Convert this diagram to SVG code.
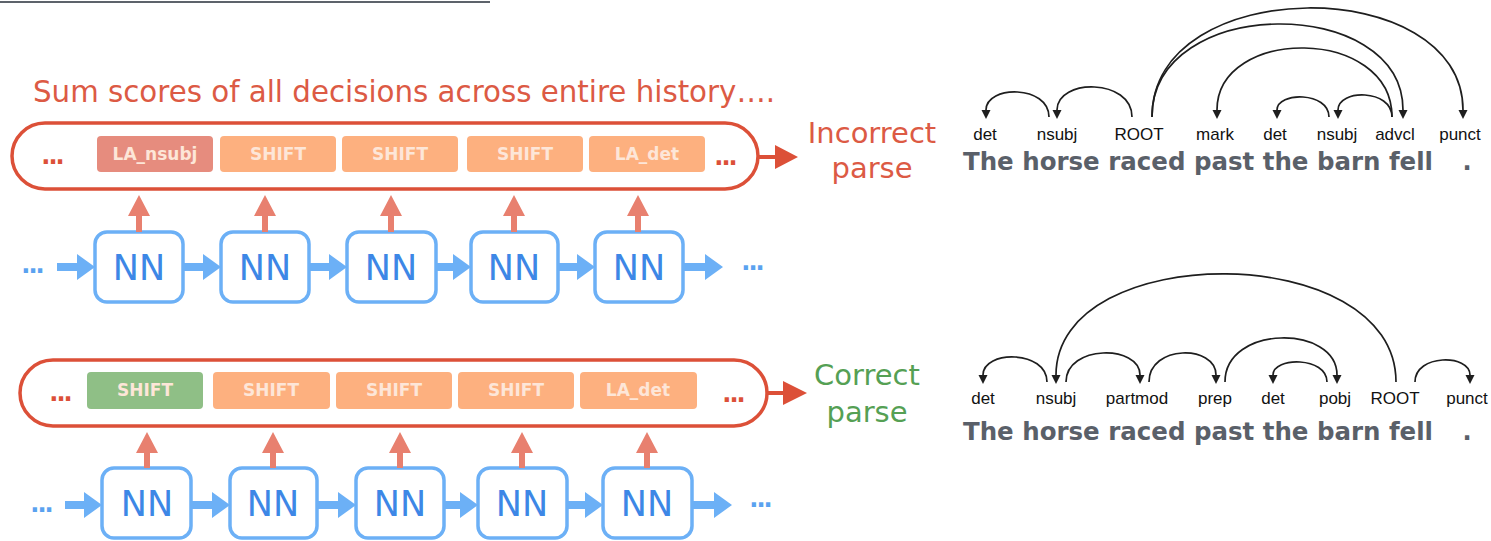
<svg xmlns="http://www.w3.org/2000/svg" width="1491" height="541" viewBox="0 0 1491 541">
<style>
.title{font-family:"DejaVu Sans",Verdana,sans-serif;font-size:30px;fill:#dc5a44}
.res{font-family:"DejaVu Sans",Verdana,sans-serif;font-size:29px;text-anchor:middle}
.seq{fill:#fff;stroke:#dc5038;stroke-width:3.5}
.act{font-family:"DejaVu Sans",Verdana,sans-serif;font-size:17px;font-weight:bold;fill:#fde6d8;text-anchor:middle}
.nnb{fill:#fff;stroke:#6cb0f6;stroke-width:3.5}
.nnt{font-family:"DejaVu Sans",Verdana,sans-serif;font-size:35px;fill:#3d87e6;text-anchor:middle}
.dots{font-family:"DejaVu Sans",Verdana,sans-serif;font-size:24px;font-weight:bold;text-anchor:middle;letter-spacing:-2px}
.blue{fill:#6cb0f6}
.up{fill:#e8806f}
.red{fill:#dc5038}
.arc{fill:none;stroke:#1e1e1e;stroke-width:1.7;marker-end:url(#ah)}
.lab{font-family:"Liberation Sans",Arial,sans-serif;font-size:17px;fill:#111;text-anchor:middle}
.sent{font-family:"DejaVu Sans",Verdana,sans-serif;font-size:24px;font-weight:bold;fill:#5a6069}
</style>
<defs>
<marker id="ah" viewBox="0 0 10 10" refX="0" refY="5" markerWidth="9" markerHeight="11" markerUnits="userSpaceOnUse" orient="auto"><path d="M0,0 L10,5 L0,10 z" fill="#1e1e1e"/></marker>
</defs>
<rect width="1491" height="541" fill="#fff"/>
<line x1="0" y1="2" x2="490" y2="2" stroke="#5d636b" stroke-width="2"/>

<text class="title" x="33" y="102" textLength="742" lengthAdjust="spacingAndGlyphs">Sum scores of all decisions across entire history….</text>

<g id="top-sequence">
<rect class="seq" x="12" y="123" width="746" height="66" rx="33"/>
<text class="dots" x="52" y="164" fill="#dc5038">...</text>
<rect x="97" y="136" width="116" height="36" rx="4" fill="#e68c7e"/>
<text class="act" x="155" y="160">LA_nsubj</text>
<rect x="220" y="136" width="116" height="36" rx="4" fill="#fdb07f"/>
<text class="act" x="278" y="160">SHIFT</text>
<rect x="342" y="136" width="116" height="36" rx="4" fill="#fdb07f"/>
<text class="act" x="400" y="160">SHIFT</text>
<rect x="467" y="136" width="116" height="36" rx="4" fill="#fdb07f"/>
<text class="act" x="525" y="160">SHIFT</text>
<rect x="589" y="136" width="116" height="36" rx="4" fill="#fdb07f"/>
<text class="act" x="647" y="160">LA_det</text>
<text class="dots" x="725" y="165" fill="#dc5038">...</text>
</g>
<g id="incorrect-label">
<text class="res" x="872" y="143" fill="#dc5a44">Incorrect</text>
<text class="res" x="872" y="178" fill="#dc5a44">parse</text>
</g>

<g id="top-nn">
<text class="dots" x="32" y="273" fill="#5aa2f0">...</text>
<rect id="nn1" class="nnb" x="95" y="232" width="88" height="70" rx="12"/>
<text class="nnt" x="139" y="280">NN</text>
<rect id="nn2" class="nnb" x="221" y="232" width="88" height="70" rx="12"/>
<text class="nnt" x="265" y="280">NN</text>
<rect id="nn3" class="nnb" x="347" y="232" width="89" height="70" rx="12"/>
<text class="nnt" x="391" y="280">NN</text>
<rect id="nn4" class="nnb" x="471" y="232" width="87" height="70" rx="12"/>
<text class="nnt" x="514" y="280">NN</text>
<rect id="nn5" class="nnb" x="595" y="232" width="88" height="70" rx="12"/>
<text class="nnt" x="639" y="280">NN</text>
<text class="dots" x="752" y="270" fill="#5aa2f0">...</text>
</g>

<g id="bottom-sequence">
<rect class="seq" x="20" y="360" width="747" height="66" rx="33"/>
<text class="dots" x="60" y="401" fill="#dc5038">...</text>
<rect x="87" y="372" width="116" height="37" rx="4" fill="#8fbf86"/>
<text class="act" x="145" y="396" fill="#e6f1e2">SHIFT</text>
<rect x="213" y="372" width="117" height="37" rx="4" fill="#fdb07f"/>
<text class="act" x="271" y="396">SHIFT</text>
<rect x="336" y="372" width="116" height="37" rx="4" fill="#fdb07f"/>
<text class="act" x="394" y="396">SHIFT</text>
<rect x="458" y="372" width="116" height="37" rx="4" fill="#fdb07f"/>
<text class="act" x="516" y="396">SHIFT</text>
<rect x="580" y="372" width="117" height="37" rx="4" fill="#fdb07f"/>
<text class="act" x="638" y="396">LA_det</text>
<text class="dots" x="733" y="402" fill="#dc5038">...</text>
</g>
<g id="correct-label">
<text class="res" x="867" y="385" fill="#55a054">Correct</text>
<text class="res" x="867" y="422" fill="#55a054">parse</text>
</g>

<g id="bottom-nn">
<text class="dots" x="41" y="512" fill="#5aa2f0">...</text>
<rect id="nb1" class="nnb" x="102" y="468" width="89" height="70" rx="12"/>
<text class="nnt" x="147" y="516">NN</text>
<rect id="nb2" class="nnb" x="230" y="468" width="87" height="70" rx="12"/>
<text class="nnt" x="273" y="516">NN</text>
<rect id="nb3" class="nnb" x="356" y="468" width="88" height="70" rx="12"/>
<text class="nnt" x="400" y="516">NN</text>
<rect id="nb4" class="nnb" x="478" y="468" width="89" height="70" rx="12"/>
<text class="nnt" x="522" y="516">NN</text>
<rect id="nb5" class="nnb" x="603" y="468" width="89" height="70" rx="12"/>
<text class="nnt" x="647" y="516">NN</text>
<text class="dots" x="760" y="507" fill="#5aa2f0">...</text>
</g>

<g id="connectors">
<path class="blue" d="M57,263 L77,263 L77,254 L95,267 L77,280 L77,271 L57,271Z"/>
<path class="blue" d="M183,263 L203,263 L203,254 L221,267 L203,280 L203,271 L183,271Z"/>
<path class="blue" d="M309,263 L329,263 L329,254 L347,267 L329,280 L329,271 L309,271Z"/>
<path class="blue" d="M436,263 L453,263 L453,254 L471,267 L453,280 L453,271 L436,271Z"/>
<path class="blue" d="M558,263 L577,263 L577,254 L595,267 L577,280 L577,271 L558,271Z"/>
<path class="blue" d="M683,263 L705,263 L705,254 L723,267 L705,280 L705,271 L683,271Z"/>
<path class="blue" d="M65,501 L84,501 L84,492 L102,505 L84,518 L84,509 L65,509Z"/>
<path class="blue" d="M191,501 L212,501 L212,492 L230,505 L212,518 L212,509 L191,509Z"/>
<path class="blue" d="M317,501 L338,501 L338,492 L356,505 L338,518 L338,509 L317,509Z"/>
<path class="blue" d="M444,501 L460,501 L460,492 L478,505 L460,518 L460,509 L444,509Z"/>
<path class="blue" d="M567,501 L585,501 L585,492 L603,505 L585,518 L585,509 L567,509Z"/>
<path class="blue" d="M692,501 L714,501 L714,492 L732,505 L714,518 L714,509 L692,509Z"/>
<path class="up" d="M136,232 L136,216 L128,216 L139,195 L150,216 L142,216 L142,232Z"/>
<path class="up" d="M262,232 L262,216 L254,216 L265,195 L276,216 L268,216 L268,232Z"/>
<path class="up" d="M388,232 L388,216 L380,216 L391,195 L402,216 L394,216 L394,232Z"/>
<path class="up" d="M511,232 L511,216 L503,216 L514,195 L525,216 L517,216 L517,232Z"/>
<path class="up" d="M635,232 L635,216 L627,216 L638,195 L649,216 L641,216 L641,232Z"/>
<path class="up" d="M144,468 L144,453 L136,453 L147,432 L158,453 L150,453 L150,468Z"/>
<path class="up" d="M270,468 L270,453 L262,453 L273,432 L284,453 L276,453 L276,468Z"/>
<path class="up" d="M397,468 L397,453 L389,453 L400,432 L411,453 L403,453 L403,468Z"/>
<path class="up" d="M519,468 L519,453 L511,453 L522,432 L533,453 L525,453 L525,468Z"/>
<path class="up" d="M644,468 L644,453 L636,453 L647,432 L658,453 L650,453 L650,468Z"/>
<path class="red" d="M758,155 L775,155 L775,145 L798,157 L775,169 L775,159 L758,159Z"/>
<path class="red" d="M767,391 L783,391 L783,381 L807,393 L783,405 L783,395 L767,395Z"/>
</g>

<g id="tree-incorrect">
<g id="tree-incorrect-arcs">
<path class="arc" d="M1049,117 C1049,84.8 986,84.8 986,110"/>
<path class="arc" d="M1132,117 C1132,78.2 1057,78.2 1057,110"/>
<path class="arc" d="M1152,117 C1152,-5.8 1403,-5.8 1403,110"/>
<path class="arc" d="M1152,117 C1152,-27.2 1463,-27.2 1463,110"/>
<path class="arc" d="M1392,117 C1392,26.2 1217,26.2 1217,110"/>
<path class="arc" d="M1329,117 C1329,91.5 1277,91.5 1277,110"/>
<path class="arc" d="M1392,117 C1392,88.8 1338,88.8 1338,110"/>
</g>
<text class="lab" x="985" y="140">det</text>
<text class="lab" x="1057" y="140">nsubj</text>
<text class="lab" x="1139" y="140">ROOT</text>
<text class="lab" x="1215" y="140">mark</text>
<text class="lab" x="1275" y="140">det</text>
<text class="lab" x="1337" y="140">nsubj</text>
<text class="lab" x="1395" y="140">advcl</text>
<text class="lab" x="1460" y="140">punct</text>
<text class="sent" x="963" y="170" textLength="470" lengthAdjust="spacingAndGlyphs">The horse raced past the barn fell</text>
<text class="sent" x="1467" y="170" text-anchor="middle">.</text>
</g>

<g id="tree-correct">
<g id="tree-correct-arcs">
<path class="arc" d="M1047,382 C1047,349.8 983,349.8 983,375"/>
<path class="arc" d="M1066,382 C1066,344.5 1140,344.5 1140,375"/>
<path class="arc" d="M1149,382 C1149,344.5 1216,344.5 1216,375"/>
<path class="arc" d="M1396,382 C1396,239 1056,239 1056,375"/>
<path class="arc" d="M1225,382 C1225,324.5 1337,324.5 1337,375"/>
<path class="arc" d="M1327,382 C1327,356.5 1273,356.5 1273,375"/>
<path class="arc" d="M1415,382 C1415,353.8 1470,353.8 1470,375"/>
</g>
<text class="lab" x="983" y="404">det</text>
<text class="lab" x="1056" y="404">nsubj</text>
<text class="lab" x="1137" y="404">partmod</text>
<text class="lab" x="1215" y="404">prep</text>
<text class="lab" x="1273" y="404">det</text>
<text class="lab" x="1335" y="404">pobj</text>
<text class="lab" x="1395" y="404">ROOT</text>
<text class="lab" x="1467" y="404">punct</text>
<text class="sent" x="963" y="440" textLength="470" lengthAdjust="spacingAndGlyphs">The horse raced past the barn fell</text>
<text class="sent" x="1467" y="440" text-anchor="middle">.</text>
</g>
</svg>
